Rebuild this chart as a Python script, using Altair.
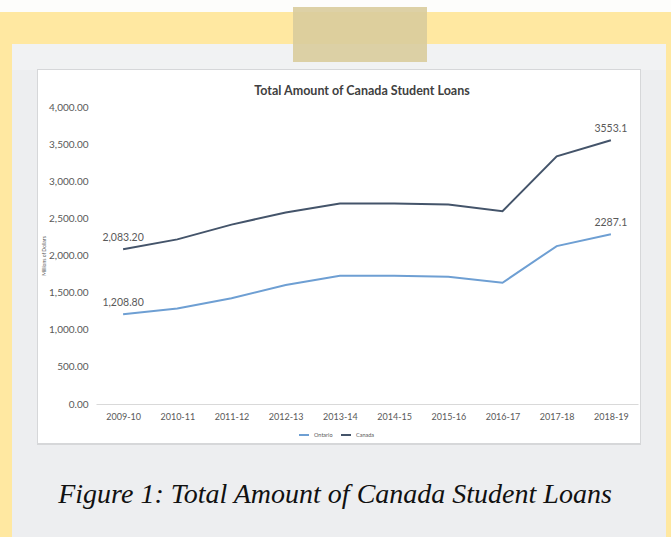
import altair as alt
import pandas as pd

# ---- data ----
years = ["2009-10", "2010-11", "2011-12", "2012-13", "2013-14",
         "2014-15", "2015-16", "2016-17", "2017-18", "2018-19"]
ontario = [1208.8, 1285, 1425, 1602, 1728, 1728, 1715, 1633, 2127, 2287.1]
canada = [2083.2, 2217, 2416, 2579, 2701, 2701, 2688, 2597, 3335, 3553.1]
ontario_labels = ["1,208.80", "", "", "", "", "", "", "", "", "2287.1"]
canada_labels = ["2,083.20", "", "", "", "", "", "", "", "", "3553.1"]
series = ["Ontario", "Canada"]
colors = ["#6E9FD3", "#44546A"]
y_ticks = [0.0, 500.0, 1000.0, 1500.0, 2000.0, 2500.0, 3000.0, 3500.0, 4000.0]
chart_title = "Total Amount of Canada Student Loans"
caption_text = "Figure 1: Total Amount of Canada Student Loans"

rows = []
for name, vals, labs in [("Ontario", ontario, ontario_labels), ("Canada", canada, canada_labels)]:
    for yr, v, lb in zip(years, vals, labs):
        rows.append({"year": yr, "value": v, "series": name, "label": lb})
df = pd.DataFrame(rows)

one = alt.Data(values=[{"d": 1}])

# plot area origin in page pixels: (96, 107); size 542 x 297
def rect(x, x2, y, y2, color, opacity=1.0):
    return alt.Chart(one).mark_rect(color=color, opacity=opacity).encode(
        x=alt.value(x), x2=alt.value(x2), y=alt.value(y), y2=alt.value(y2))

top_strip = rect(-96, 575, -107, -95, "#FDFDFB")
paper = rect(-84, 570, -63, 430, "#EDEEF0")
paper_top = rect(-84, 570, -63, -37, "#F1F2F3")
shadow = rect(-59, 545, -38, 338, "#D6D7D9")
chart_bg = rect(-58, 544, -37, 336, "#FFFFFF")
tape = rect(197, 331, -100, -45, "#D9CC9C", 0.9)

x_enc = alt.X(
    "year:N", sort=years,
    scale=alt.Scale(type="point", padding=0.5),
    axis=alt.Axis(title=None, labelAngle=0, ticks=False, domainColor="#D9D9D9",
                  labelColor="#595959", labelFontSize=9, labelFont="Lato",
                  labelPadding=8, zindex=1),
)
y_enc = alt.Y(
    "value:Q",
    scale=alt.Scale(domain=[0, 4000], nice=False),
    axis=alt.Axis(values=y_ticks, tickCount=9, format=",.2f", title="Millions of Dollars",
                  titleFontSize=5, titleFontWeight="normal", titleColor="#595959",
                  titleFont="Lato", titlePadding=2, domain=False, ticks=False,
                  grid=False, labelColor="#595959", labelFontSize=10,
                  labelFont="Lato", labelPadding=8, labelOverlap=False,
                  labelSeparation=0, zindex=1),
)
color_enc = alt.Color(
    "series:N",
    scale=alt.Scale(domain=series, range=colors),
    legend=alt.Legend(orient="none", legendX=202, legendY=322, direction="horizontal",
                      title=None, symbolType="stroke", symbolSize=100,
                      symbolStrokeWidth=2, labelFontSize=5.5, labelColor="#595959",
                      labelFont="Lato", columnPadding=4, zindex=1),
)

lines = alt.Chart(df).mark_line(strokeWidth=2).encode(
    x=x_enc, y=y_enc, color=color_enc, order=alt.Order("year:N")
)

labels = alt.Chart(df).transform_filter("datum.label != ''").mark_text(
    dy=-11, fontSize=10.5, font="Lato", color="#595959"
).encode(x=alt.X("year:N", sort=years), y="value:Q", text="label:N")

title = alt.Chart(one).mark_text(
    text=chart_title, font="Lato", fontWeight="bold", fontSize=12.5, color="#404040"
).encode(x=alt.value(266), y=alt.value(-16))

caption = alt.Chart(one).mark_text(
    text=caption_text,
    font="Liberation Serif", fontStyle="italic", fontSize=28, color="#111111"
).encode(x=alt.value(239), y=alt.value(388))

chart = alt.layer(
    top_strip, paper, paper_top, shadow, chart_bg, lines, labels, title, caption, tape
).properties(
    width=542, height=297,
    autosize=alt.AutoSizeParams(type="none"),
    padding={"left": 96, "top": 107, "right": 33, "bottom": 133},
    background="#FFE8A1",
).configure_view(stroke=None).configure_axisY(labelOverlap=False)

chart.save("out.html", embed_options={"renderer": "svg", "actions": False})
